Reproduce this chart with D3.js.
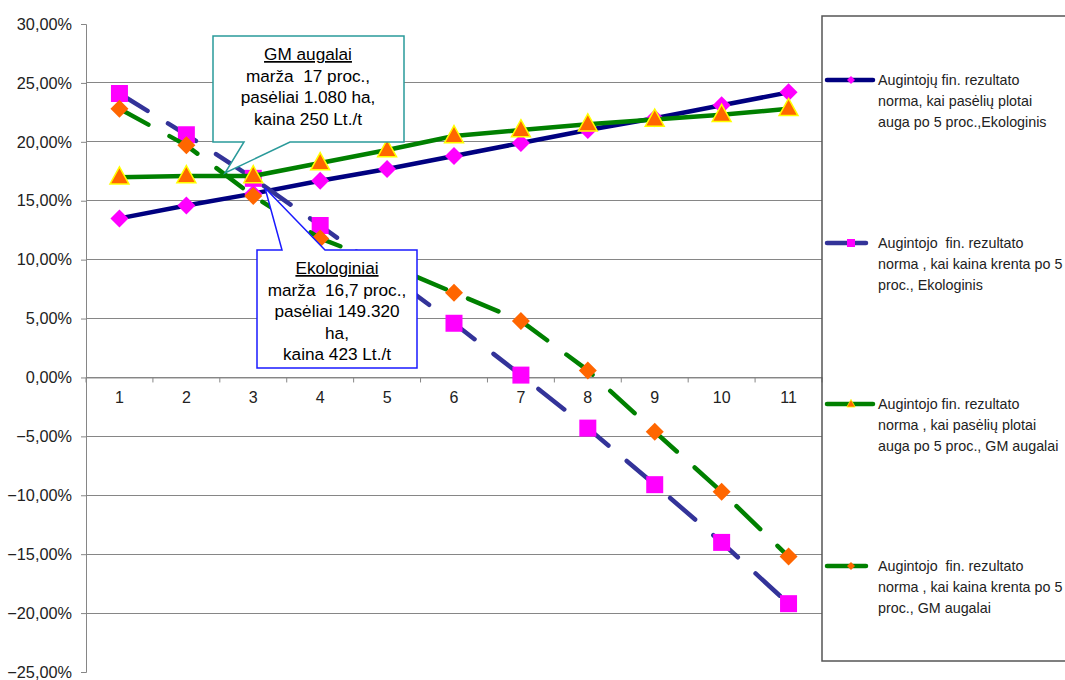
<!DOCTYPE html>
<html>
<head>
<meta charset="utf-8">
<script src="https://cdn.jsdelivr.net/npm/d3@7"></script>
<style>
body{margin:0;background:#fff;}
svg{display:block;font-family:"Liberation Sans",Arial,sans-serif;}
text{white-space:pre;}
</style>
</head>
<body>
<svg id="c" width="1065" height="680"></svg>
<script>
const categories = [1,2,3,4,5,6,7,8,9,10,11];
const ekoArea  = [13.5,14.6,15.6,16.7,17.7,18.8,19.9,21.0,22.0,23.1,24.2];
const ekoPrice = [24.1,20.6,16.9,12.9,8.8,4.6,0.2,-4.3,-9.1,-14.0,-19.2];
const gmArea   = [17.0,17.1,17.1,18.2,19.3,20.5,21.0,21.5,21.9,22.3,22.8];
const gmPrice  = [22.8,19.7,15.4,11.8,9.6,7.2,4.8,0.6,-4.6,-9.7,-15.2];
const yTicks = [30,25,20,15,10,5,0,-5,-10,-15,-20,-25];
const legendLabels = [
  ["Augintojų fin. rezultato","norma, kai pasėlių plotai","auga po 5 proc.,Ekologinis"],
  ["Augintojo  fin. rezultato","norma , kai kaina krenta po 5","proc., Ekologinis"],
  ["Augintojo fin. rezultato","norma , kai pasėlių plotai","auga po 5 proc., GM augalai"],
  ["Augintojo  fin. rezultato","norma , kai kaina krenta po 5","proc., GM augalai"]
];
const gmNote = ["GM augalai","marža  17 proc.,","pasėliai 1.080 ha,","kaina 250 Lt./t"];
const ekoNote = ["Ekologiniai","marža  16,7 proc.,","pasėliai 149.320","ha,","kaina 423 Lt./t"];

const series = [
  {values: ekoArea,  line:"#000080", dash:null,    marker:"diamond", fill:"#FF00FF", stroke:"none"},
  {values: ekoPrice, line:"#333399", dash:"33,24", marker:"square",  fill:"#FF00FF", stroke:"none"},
  {values: gmArea,   line:"#008000", dash:null,    marker:"triangle",fill:"#FF6600", stroke:"#FFFF00"},
  {values: gmPrice,  line:"#008000", dash:"33,24", marker:"diamond", fill:"#FF6600", stroke:"none"}
];

const svg = d3.select("#c");
const pL = 86, pR = 822, pT = 24, pB = 672;
const x = d3.scaleBand().domain(categories).range([pL,pR]);
const y = d3.scaleLinear().domain([-25,30]).range([pB,pT]);
const cx = d => x(d) + x.bandwidth()/2;

svg.append("g").selectAll("line").data(yTicks.filter(t=>t!==30 && t!==-25)).join("line")
  .attr("x1",pL).attr("x2",pR).attr("y1",d=>y(d)).attr("y2",d=>y(d))
  .attr("stroke","#868686").attr("stroke-width",1).attr("shape-rendering","crispEdges");

const yAxis = d3.axisLeft(y).tickValues(yTicks).tickSize(5).tickPadding(9)
  .tickFormat(d => d3.format(".2f")(d).replace(".",",") + "%");
const ga = svg.append("g").attr("transform",`translate(${pL},0)`).call(yAxis);
ga.select(".domain").attr("stroke","#868686");
ga.selectAll(".tick line").attr("stroke","#868686");
ga.selectAll(".tick text").attr("font-size",16.3).attr("fill","#222").attr("font-family","Liberation Sans, Arial, sans-serif");

const xAxis = d3.axisBottom(x).tickSize(0).tickPadding(14);
const gx = svg.append("g").attr("transform",`translate(0,${y(0)})`).call(xAxis);
gx.select(".domain").attr("stroke","#868686");
gx.selectAll(".tick text").attr("font-size",16).attr("fill","#222").attr("font-family","Liberation Sans, Arial, sans-serif");
const bounds = categories.map(c=>x(c)).concat([pR]);
gx.append("g").selectAll("line").data(bounds).join("line")
  .attr("x1",d=>d).attr("x2",d=>d).attr("y1",0).attr("y2",5).attr("stroke","#868686");

function markerPath(type, s){
  if(type==="diamond") return `M0,${-s}L${s},0L0,${s}L${-s},0Z`;
  if(type==="square") return `M${-s},${-s}H${s}V${s}H${-s}Z`;
  return `M0,${-s*1.15}L${s*1.05},${s*0.75}L${-s*1.05},${s*0.75}Z`;
}
const msize = {diamond:9, square:8.5, triangle:9};

const line = d3.line().x((d,i)=>cx(categories[i])).y(d=>y(d));
series.forEach(s=>{
  svg.append("path").datum(s.values).attr("d",line)
    .attr("fill","none").attr("stroke",s.line).attr("stroke-width",4.5)
    .attr("stroke-linecap","round").attr("stroke-linejoin","round")
    .attr("stroke-dasharray",s.dash);
  svg.append("g").selectAll("path").data(s.values).join("path")
    .attr("transform",(d,i)=>`translate(${cx(categories[i])},${y(d)})`)
    .attr("d",markerPath(s.marker,msize[s.marker]))
    .attr("fill",s.fill).attr("stroke",s.stroke).attr("stroke-width",1.5);
});

function callout(box, tail, color, lines, cxText, ty0, dy){
  const [x0,y0b,x1,y1] = box;
  const [b1,b2,tx,ty] = tail;
  let d;
  if(ty > y1){
    d = `M${x0},${y0b}H${x1}V${y1}H${b2}L${tx},${ty}L${b1},${y1}H${x0}Z`;
  } else {
    d = `M${x0},${y0b}H${b1}L${tx},${ty}L${b2},${y0b}H${x1}V${y1}H${x0}Z`;
  }
  svg.append("path").attr("d",d).attr("fill","#fff").attr("stroke",color).attr("stroke-width",1.5);
  const t = svg.append("g");
  lines.forEach((l,i)=>{
    t.append("text").attr("x",cxText).attr("y",ty0+i*dy).attr("text-anchor","middle")
      .attr("xml:space","preserve")
      .attr("font-size",17.2).attr("fill","#000").attr("text-decoration", i===0?"underline":null).text(l);
  });
}
callout([213,36,404,142],[244,290,225,173],"#2A9A9A",gmNote,308,60,21.6);
callout([257,250,417,368],[282,325,265,188],"#1A1AFF",ekoNote,337,274,21.5);

svg.append("rect").attr("x",822).attr("y",16).attr("width",245).attr("height",645)
  .attr("fill","none").attr("stroke","#555").attr("stroke-width",1.5);
const legY = [80,243,404,566];
series.forEach((s,i)=>{
  const ly = legY[i];
  const x2 = s.dash ? 866 : 873;
  svg.append("line").attr("x1",827).attr("x2",x2).attr("y1",ly).attr("y2",ly)
    .attr("stroke",s.line).attr("stroke-width",4.5).attr("stroke-linecap","round");
  svg.append("path").attr("transform",`translate(851,${ly})`)
    .attr("d",markerPath(s.marker,4))
    .attr("fill",s.fill).attr("stroke",s.stroke==="none"?"none":"#FFFF00").attr("stroke-width",0.8);
  legendLabels[i].forEach((l,j)=>{
    svg.append("text").attr("x",878).attr("y",ly+5+j*21).attr("xml:space","preserve")
      .attr("font-size",14.3).attr("fill","#222").text(l);
  });
});
</script>
</body>
</html>
